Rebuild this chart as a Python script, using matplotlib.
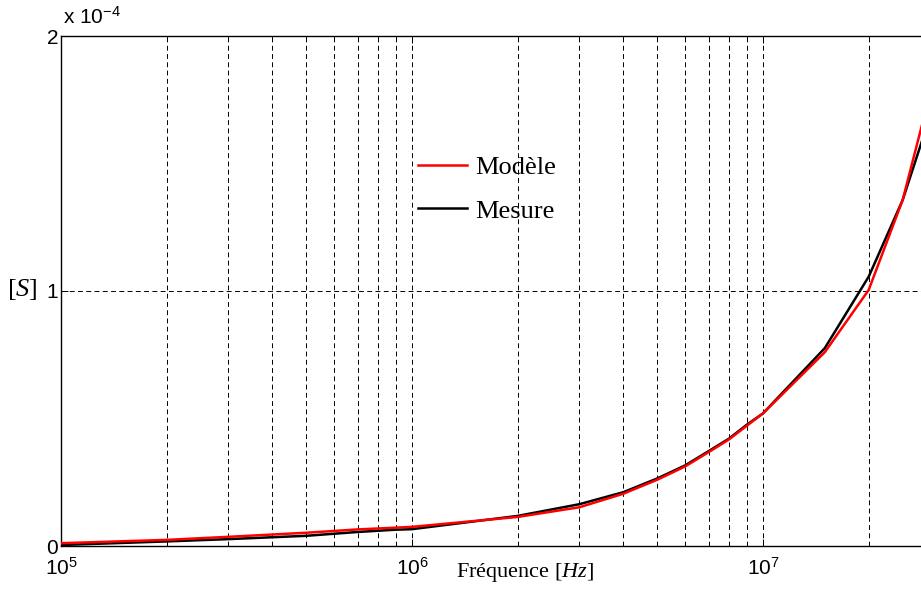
import numpy as np
import matplotlib
matplotlib.use("Agg")
import matplotlib.pyplot as plt
from matplotlib.ticker import FixedLocator, FixedFormatter, NullFormatter, LogLocator

plt.rcParams['font.family'] = ['Liberation Serif', 'DejaVu Serif']
plt.rcParams['mathtext.fontset'] = 'custom'
plt.rcParams['mathtext.rm'] = 'Liberation Sans'
plt.rcParams['mathtext.it'] = 'Liberation Serif:italic'

# frequency points [Hz]
freq = [1e5, 2e5, 3e5, 5e5, 7e5, 9e5, 1e6, 2e6, 3e6, 4e6, 5e6, 6e6, 7e6, 8e6, 9e6,
        1e7, 1.5e7, 2e7, 2.5e7, 3e7]
# admittance values, units of 1e-4 S
modele = [0.011, 0.024, 0.036, 0.052, 0.065, 0.072, 0.075, 0.114, 0.152, 0.205, 0.26,
          0.312, 0.368, 0.418, 0.472, 0.52, 0.76, 1.004, 1.357, 1.78]
mesure = [0.004, 0.018, 0.027, 0.040, 0.055, 0.064, 0.066, 0.118, 0.164, 0.211, 0.265,
          0.316, 0.372, 0.421, 0.476, 0.52, 0.776, 1.056, 1.357, 1.69]

xticks = [1e5, 1e6, 1e7]
xticklabels = [r'$\mathregular{10^{5}}$', r'$\mathregular{10^{6}}$', r'$\mathregular{10^{7}}$']
yticks = [0, 1e-4, 2e-4]
yticklabels = ['0', '1', '2']

fig = plt.figure(figsize=(9.21, 5.92), dpi=100)
ax = fig.add_axes([61 / 921, 46 / 592, 860 / 921, 510 / 592])

ax.plot(freq, np.array(mesure) * 1e-4, color='black', lw=1.8, label='Mesure', zorder=3)
ax.plot(freq, np.array(modele) * 1e-4, color='red', lw=1.8, label='Modèle', zorder=4)

ax.set_xscale('log')
ax.set_xlim(1e5, 10 ** (5 + 860 / 351))
ax.set_ylim(0, 2e-4)

ax.xaxis.set_major_locator(FixedLocator(xticks))
ax.xaxis.set_major_formatter(FixedFormatter(xticklabels))
ax.xaxis.set_minor_locator(LogLocator(base=10, subs=np.arange(2, 10)))
ax.xaxis.set_minor_formatter(NullFormatter())
ax.set_yticks(yticks)
ax.set_yticklabels(yticklabels)

for lab in ax.get_xticklabels() + ax.get_yticklabels():
    lab.set_fontsize(15)
    lab.set_family('Liberation Sans')

ax.tick_params(which='both', direction='in', top=True, right=False, color='black')
ax.tick_params(which='major', length=5, width=0.7, pad=2)
ax.tick_params(axis='x', which='major', pad=8)
ax.tick_params(which='minor', length=3, width=0.7)

dash = (0, (5, 3.5))
ax.grid(True, axis='x', which='both', color='black', ls=dash, lw=0.7)
ax.grid(True, axis='y', which='major', color='black', ls=dash, lw=0.7)

ax.spines['right'].set_visible(False)
for s in ['left', 'top', 'bottom']:
    ax.spines[s].set_linewidth(1.0)

fig.text(63 / 921, 1 - 17 / 592, r'x $\mathregular{10^{-4}}$', family='Liberation Sans',
         fontsize=15, ha='left', va='center')
fig.text(22 / 921, 1 - 290 / 592, '[$S$]', fontsize=19, ha='center', va='center')
fig.text(525 / 921, 1 - 573 / 592, 'Fréquence [$Hz$]', fontsize=16, ha='center', va='center')

h, l = ax.get_legend_handles_labels()
ax.legend(h[::-1], l[::-1], loc='upper left', bbox_to_anchor=((418 - 61) / 860, (546 - 156) / 510),
          frameon=False, fontsize=19, handlelength=1.85, handletextpad=0.3,
          borderpad=0, borderaxespad=0, labelspacing=0.75)

fig.savefig('out.png', dpi=100)
